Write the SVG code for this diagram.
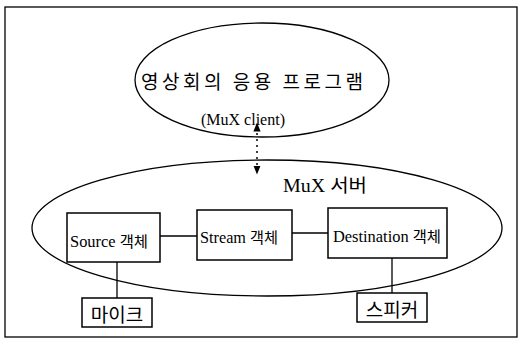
<svg xmlns="http://www.w3.org/2000/svg" width="522" height="357" viewBox="0 0 522 357">
<defs>
<style>
.ln{fill:none;stroke:#000;stroke-width:1.3}
.bx{fill:#fff;stroke:#000;stroke-width:1.5}
.ko{font-family:"Noto Sans CJK KR","Noto Sans",sans-serif;fill:#000}
.se{font-family:"Liberation Serif","Noto Sans CJK KR",serif;fill:#000}
</style>
<marker id="ah" viewBox="0 0 10 10" refX="5" refY="5" markerWidth="6" markerHeight="6" orient="auto-start-reverse">
<path d="M0,1 L10,5 L0,9 Z" fill="#000"/>
</marker>
</defs>
<rect x="0" y="0" width="522" height="357" fill="#fff"/>
<rect x="5" y="7" width="512" height="330" class="ln" stroke-width="1.5"/>
<g id="client">
<ellipse cx="262" cy="80" rx="127" ry="57" class="ln"/>
<text x="252" y="89" class="ko" font-size="19" text-anchor="middle" textLength="222" lengthAdjust="spacing">영상회의 응용 프로그램</text>
<text x="243" y="125" class="se" font-size="16" text-anchor="middle">(MuX client)</text>
</g>
<g id="server">
<ellipse cx="267" cy="228" rx="235" ry="68" class="ln"/>
<text x="283" y="192" class="se" font-size="18" textLength="84" lengthAdjust="spacingAndGlyphs">MuX <tspan class="ko">서버</tspan></text>
</g>
<g id="connectors">
<line x1="257" y1="127" x2="257" y2="170" stroke="#000" stroke-width="1.5" stroke-dasharray="2,4" marker-start="url(#ah)" marker-end="url(#ah)"/>
<line x1="160" y1="236" x2="197" y2="236" class="ln"/>
<line x1="292" y1="233" x2="328" y2="233" class="ln"/>
<line x1="117" y1="262" x2="117" y2="298" class="ln"/>
<line x1="392" y1="258" x2="392" y2="293" class="ln"/>
</g>
<g id="source">
<rect x="67" y="213" width="93" height="49" class="bx"/>
<text x="70" y="247" class="se" font-size="16" textLength="78" lengthAdjust="spacingAndGlyphs">Source <tspan class="ko" font-size="15">객체</tspan></text>
</g>
<g id="stream">
<rect x="197" y="210" width="95" height="50" class="bx"/>
<text x="200" y="243" class="se" font-size="16" textLength="78" lengthAdjust="spacingAndGlyphs">Stream <tspan class="ko" font-size="15">객체</tspan></text>
</g>
<g id="destination">
<rect x="328" y="208" width="119" height="50" class="bx"/>
<text x="333" y="242" class="se" font-size="16" textLength="108" lengthAdjust="spacingAndGlyphs">Destination <tspan class="ko" font-size="15">객체</tspan></text>
</g>
<g id="mic">
<rect x="82" y="298" width="70" height="29" class="bx"/>
<text x="117" y="322" class="ko" font-size="19" text-anchor="middle">마이크</text>
</g>
<g id="speaker">
<rect x="357" y="293" width="70" height="29" class="bx"/>
<text x="392" y="317" class="ko" font-size="19" text-anchor="middle">스피커</text>
</g>
</svg>
